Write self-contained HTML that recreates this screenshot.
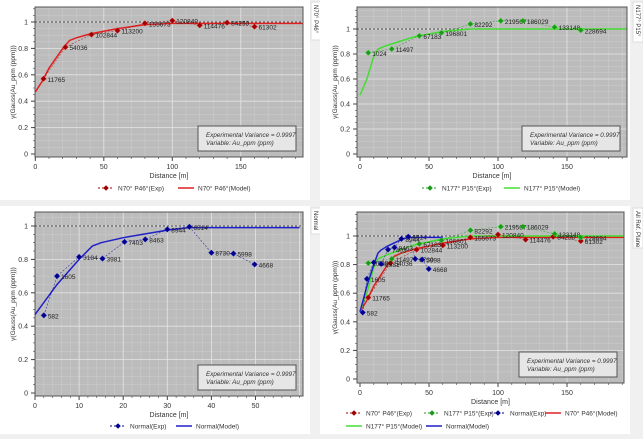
<!DOCTYPE html>
<html><head><meta charset="utf-8">
<style>
body{margin:0;width:643px;height:439px;background:#f0f0f0;overflow:hidden;font-family:"Liberation Sans",sans-serif;}
svg{position:absolute;left:0;top:0}
</style></head><body>
<svg id="s" width="643" height="439"></svg>
<script>
// ---- data ----
const n70Dist=[6,22,41,60,80,100,120,140,160];
const n70Gamma=[0.57,0.81,0.905,0.935,0.99,1.01,0.975,0.995,0.965];
const n70Pairs=["11765","54036","102844","113200","155673","120840","114476","84250","61302"];
const n70ModelX=[0,5,10,20,25,30,40,60,80,100,195];
const n70ModelY=[0.47,0.55,0.65,0.8,0.86,0.88,0.91,0.95,0.98,0.99,0.99];
const n177Dist=[6,23,43,59,80,102,118,141,160];
const n177Gamma=[0.81,0.84,0.945,0.97,1.04,1.065,1.065,1.015,0.99];
const n177Pairs=["1024","11497","67183","196801","82292","219567","186029","133148","228694"];
const n177ModelX=[0,5,10,13,20,40,60,80,195];
const n177ModelY=[0.47,0.6,0.78,0.84,0.87,0.94,0.98,1.0,1.0];
const normDist=[2,5,10,15.3,20.3,25,30,35,40,45,49.8];
const normGamma=[0.465,0.70,0.815,0.805,0.905,0.92,0.98,0.995,0.84,0.835,0.77];
const normPairs=["582","1605","3184","3981","7403","8463","8944","6514","8730","5998","4668"];
const normModelX=[0,5,10,13,15,20,30,35,60];
const normModelY=[0.47,0.65,0.8,0.88,0.9,0.93,0.975,0.99,0.99];

const S=document.getElementById('s');const NS="http://www.w3.org/2000/svg";
function el(t,a,p){const e=document.createElementNS(NS,t);for(const k in a)e.setAttribute(k,a[k]);(p||S).appendChild(e);return e;}
function tx(x,y,s,a,p){const e=el('text',Object.assign({x:x,y:y,'font-size':7,fill:'#333'},a||{}),p);e.textContent=s;return e;}
const RED={line:'#e02020',mk:'#a00000'},GRN={line:'#44dd33',mk:'#1a9a1a'},BLU={line:'#2020c8',mk:'#00008b'};

function panel(P){
 const g=el('g',{});
 el('rect',{x:P.bx,y:P.by,width:P.bw,height:P.bh,fill:'#fff'},g);
 const t=el('rect',{x:P.tabx,y:P.by+2,width:10,height:P.tabh,fill:'#fff',stroke:'#ddd'},g);
 
 tx(0,0,P.tab,{'font-size':6,transform:`translate(${P.tabx+3},${P.by+5}) rotate(90)`},g);
 const X=v=>P.x0+(v-0)*P.sx, Y=v=>P.y0-v*P.sy;
 el('rect',{x:P.L,y:P.T,width:P.R-P.L,height:P.B-P.T,fill:'#bcbcbc'},g);
 for(let v=P.xminor;v<P.xmax;v+=P.xminor){el('line',{x1:X(v),x2:X(v),y1:P.T,y2:P.B,stroke:'#cdcdcd','stroke-width':0.5},g);}
 for(let v=0.05;v<P.ymax;v+=0.05){el('line',{x1:P.L,x2:P.R,y1:Y(v),y2:Y(v),stroke:'#cdcdcd','stroke-width':0.5},g);}
 for(let v=P.xmajor;v<P.xmax;v+=P.xmajor){el('line',{x1:X(v),x2:X(v),y1:P.T,y2:P.B,stroke:'#e4e4e4','stroke-width':0.8},g);}
 for(let v=0.2;v<P.ymax;v+=0.2){el('line',{x1:P.L,x2:P.R,y1:Y(v),y2:Y(v),stroke:'#e4e4e4','stroke-width':0.8},g);}
 el('rect',{x:P.L,y:P.T,width:P.R-P.L,height:P.B-P.T,fill:'none',stroke:'#555','stroke-width':1},g);
 el('line',{x1:P.L,x2:P.R,y1:Y(1),y2:Y(1),stroke:'#222','stroke-width':0.7,'stroke-dasharray':'2,2'},g);
 for(let v=0;v<=1.0001;v+=0.2){el('line',{x1:P.L-4,x2:P.L,y1:Y(v),y2:Y(v),stroke:'#444'},g);tx(P.L-7,Y(v)+2.5,(Math.round(v*10)/10).toString(),{'text-anchor':'end'},g);}
 for(let v=0.05;v<P.ymax;v+=0.05)el('line',{x1:P.L-2,x2:P.L,y1:Y(v),y2:Y(v),stroke:'#444','stroke-width':0.6},g);
 for(let v=0;v<P.xmax;v+=P.xminor)el('line',{x1:X(v),x2:X(v),y1:P.B,y2:P.B+2,stroke:'#444','stroke-width':0.6},g);
 for(let v=0;v<P.xmax-1;v+=P.xmajor){el('line',{x1:X(v),x2:X(v),y1:P.B,y2:P.B+4,stroke:'#444'},g);tx(X(v),P.B+12,String(v),{'text-anchor':'middle'},g);}
 tx((P.L+P.R)/2,P.B+21,'Distance [m]',{'text-anchor':'middle'},g);
 const yt=tx(0,0,'γ(Gauss(Au_ppm (ppm)))',{'font-size':6.5,'text-anchor':'middle',transform:`translate(${P.L-20},${(P.T+P.B)/2}) rotate(-90)`},g);
 
 const sb=el('rect',{x:P.R-105,y:P.B-31,width:98,height:25,fill:'#e6e6e6',stroke:'#555'},g);
 
 tx(P.R-97,P.B-20,'Experimental Variance = 0.9997',{'font-style':'italic','font-size':6.3},g);
 tx(P.R-97,P.B-12,'Variable: Au_ppm (ppm)',{'font-style':'italic','font-size':6.3},g);
 P.series.forEach(s=>{
  const d=s.mx.map((v,i)=>(i?'L':'M')+X(Math.min(v,P.xmax))+','+Y(s.my[i])).join(' ');
  const m=el('path',{d:d,fill:'none',stroke:s.c.line,'stroke-width':1.5},g);
  
 });
 P.series.forEach(s=>{
  const d=s.dx.map((v,i)=>(i?'L':'M')+X(v)+','+Y(s.dy[i])).join(' ');
  el('path',{d:d,fill:'none',stroke:s.c.mk,'stroke-width':0.6,'stroke-dasharray':'2,1.5',opacity:0.7},g);
  s.dx.forEach((v,i)=>{
   const p=el('path',{d:`M${X(v)},${Y(s.dy[i])-2.8}l2.8,2.8l-2.8,2.8l-2.8,-2.8z`,fill:s.c.mk,stroke:s.c.line,'stroke-width':0.5},g);
   
   tx(X(v)+4,Y(s.dy[i])+3,s.lab[i],{'font-size':6.5,fill:'#222'},g);
  });
 });
 P.legend.forEach(l=>{
  const lg=el('g',{},g);
  if(l.exp){el('line',{x1:l.x,x2:l.x+16,y1:l.y,y2:l.y,stroke:l.c.mk,'stroke-dasharray':'2,2'},lg);
   el('path',{d:`M${l.x+8},${l.y-2.8}l2.8,2.8l-2.8,2.8l-2.8,-2.8z`,fill:l.c.mk},lg);}
  else el('line',{x1:l.x,x2:l.x+16,y1:l.y,y2:l.y,stroke:l.c.line,'stroke-width':1.5},lg);
  tx(l.x+20,l.y+2.5,l.t,{'font-size':6.5},lg);
 });
}
const sN70={key:'n70',c:RED,dx:n70Dist,dy:n70Gamma,lab:n70Pairs,mx:n70ModelX,my:n70ModelY};
const sN177={key:'n177',c:GRN,dx:n177Dist,dy:n177Gamma,lab:n177Pairs,mx:n177ModelX,my:n177ModelY};
const sNorm={key:'normal',c:BLU,dx:normDist,dy:normGamma,lab:normPairs,mx:normModelX,my:normModelY};
panel({name:'panel-n70',bx:0,by:0,bw:310,bh:200,tabx:311,tabh:38,tab:'N70° P46°',L:35,R:303,T:7,B:157,x0:35.3,sx:1.37,y0:154,sy:132,xmax:195,xmajor:50,xminor:10,ymax:1.11,
 series:[sN70],legend:[{x:98,y:188,c:RED,exp:1,t:'N70° P46°(Exp)'},{x:178,y:188,c:RED,t:'N70° P46°(Model)'}]});
panel({name:'panel-n177',bx:320,by:0,bw:310,bh:200,tabx:633,tabh:40,tab:'N177° P15°',L:357,R:627,T:7,B:157,x0:360,sx:1.38,y0:154,sy:125,xmax:193,xmajor:50,xminor:10,ymax:1.17,
 series:[sN177],legend:[{x:422,y:188,c:GRN,exp:1,t:'N177° P15°(Exp)'},{x:504,y:188,c:GRN,t:'N177° P15°(Model)'}]});
panel({name:'panel-normal',bx:0,by:206,bw:310,bh:228,tabx:311,tabh:26,tab:'Normal',L:35,R:303,T:212,B:396,x0:35,sx:4.41,y0:393,sy:167,xmax:60.7,xmajor:10,xminor:2,ymax:1.08,
 series:[sNorm],legend:[{x:110,y:426,c:BLU,exp:1,t:'Normal(Exp)'},{x:176,y:426,c:BLU,t:'Normal(Model)'}]});
panel({name:'panel-all',bx:320,by:206,bw:310,bh:228,tabx:633,tabh:40,tab:'All   Ref. Plane',L:357,R:624,T:212,B:383,x0:360,sx:1.38,y0:379,sy:143,xmax:191,xmajor:50,xminor:10,ymax:1.17,
 series:[sN70,sN177,sNorm],legend:[{x:346,y:413,c:RED,exp:1,t:'N70° P46°(Exp)'},{x:424,y:413,c:GRN,exp:1,t:'N177° P15°(Exp)'},{x:490,y:413,c:BLU,exp:1,t:'Normal(Exp)'},{x:545,y:413,c:RED,t:'N70° P46°(Model)'},{x:346,y:426,c:GRN,t:'N177° P15°(Model)'},{x:426,y:426,c:BLU,t:'Normal(Model)'}]});
</script>
</body></html>
